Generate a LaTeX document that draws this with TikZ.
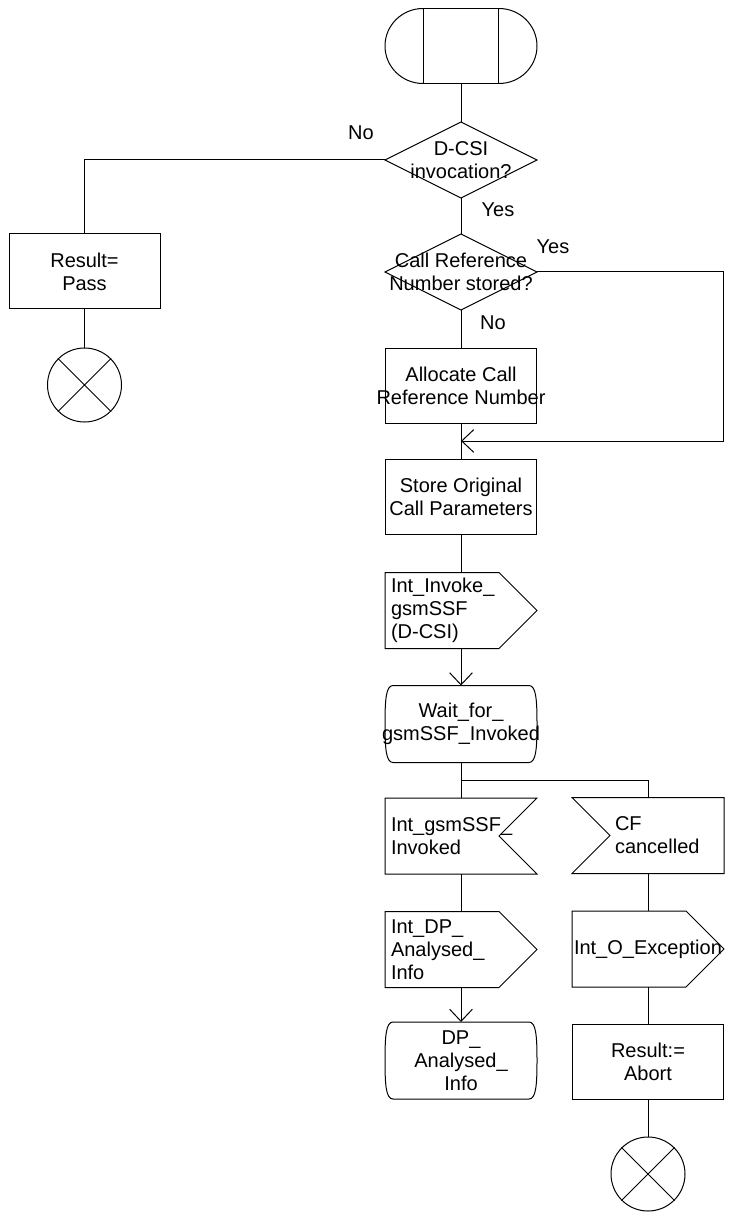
\documentclass[tikz,border=0pt]{standalone}
\usepackage{fontspec}
\setmainfont{Liberation Sans}
\usetikzlibrary{arrows.meta}
\newcommand{\fs}{\fontsize{15pt}{17.25pt}\selectfont}
\newcommand{\zw}[1]{\makebox[0pt]{#1}}
\begin{document}
\begin{tikzpicture}[x=0.75pt,y=-0.75pt, font=\fs, line width=0.75pt,
  shp/.style={rectangle, inner sep=0pt, minimum width=113.25pt, minimum height=56.25pt, align=center},
  box/.style={shp, draw},
  lft/.style={shp, text width=105pt, align=left},
  endc/.style={circle, draw, inner sep=0pt, minimum size=55.5pt},
  lbl/.style={inner sep=0pt},
  arr/.style={-{Straight Barb[length=9pt,width=17pt]}}]
\useasboundingbox (0,0) rectangle (729,1212);

% start terminal
\node[box, minimum width=56.25pt] (start) at (461,46.5) {};
\draw (start.north west) arc[start angle=90, end angle=270, x radius=28.5pt, y radius=28.125pt];
\draw (start.north east) arc[start angle=90, end angle=-90, x radius=28.5pt, y radius=28.125pt];

% decision 1
\node[shp] (d1) at (461,160) {D-CSI\\invocation?};
\draw (d1.north) -- (d1.east) -- (d1.south) -- (d1.west) -- cycle;

% left branch
\node[box] (pass) at (84.5,271.5) {Result=\\Pass};
\node[endc] (endL) at (84.5,385) {};
\draw (endL.north west) -- (endL.south east) (endL.north east) -- (endL.south west);

% decision 2
\node[shp] (d2) at (461,272) {\zw{Call Reference}\\\zw{Number stored?}};
\draw (d2.north) -- (d2.east) -- (d2.south) -- (d2.west) -- cycle;

\node[box] (alloc) at (461,385.5) {Allocate Call\\\zw{Reference Number}};
\coordinate (merge) at (461,441);
\coordinate (yc) at (723,441);
\node[box] (store) at (461,497) {Store Original\\\zw{Call Parameters}};

% output signal
\node[lft] (out1) at (461,610.5) {Int\_Invoke\_\\gsmSSF\\(D-CSI)};
\draw (out1.north west) -- ([xshift=-28.5pt]out1.north east) -- (out1.east) -- ([xshift=-28.5pt]out1.south east) -- (out1.south west) -- cycle;

% state
\node[shp, minimum height=57pt] (wait) at (461,724) {Wait\_for\_\\\zw{gsmSSF\_Invoked}};
\draw ([xshift=6pt]wait.north west) -- ([xshift=-6pt]wait.north east)
  .. controls ([xshift=-0.75pt]wait.north east) and ([yshift=-10.5pt]wait.north east) .. (wait.east)
  .. controls ([yshift=10.5pt]wait.south east) and ([xshift=-0.75pt]wait.south east) .. ([xshift=-6pt]wait.south east)
  -- ([xshift=6pt]wait.south west)
  .. controls ([xshift=0.75pt]wait.south west) and ([yshift=10.5pt]wait.south west) .. (wait.west)
  .. controls ([yshift=-10.5pt]wait.north west) and ([xshift=0.75pt]wait.north west) .. ([xshift=6pt]wait.north west);

\coordinate (br) at (461,780);

% left column
\node[lft] (in1) at (461,836) {Int\_gsmSSF\_\\Invoked};
\draw (in1.north west) -- (in1.north east) -- ([xshift=-28.5pt]in1.east) -- (in1.south east) -- (in1.south west) -- cycle;

\node[lft] (out2) at (461,949.5) {Int\_DP\_\\Analysed\_\\Info};
\draw (out2.north west) -- ([xshift=-28.5pt]out2.north east) -- (out2.east) -- ([xshift=-28.5pt]out2.south east) -- (out2.south west) -- cycle;

\node[shp, minimum height=57pt] (st2) at (461,1060.5) {DP\_\\Analysed\_\\Info};
\draw ([xshift=6pt]st2.north west) -- ([xshift=-6pt]st2.north east)
  .. controls ([xshift=-0.75pt]st2.north east) and ([yshift=-10.5pt]st2.north east) .. (st2.east)
  .. controls ([yshift=10.5pt]st2.south east) and ([xshift=-0.75pt]st2.south east) .. ([xshift=-6pt]st2.south east)
  -- ([xshift=6pt]st2.south west)
  .. controls ([xshift=0.75pt]st2.south west) and ([yshift=10.5pt]st2.south west) .. (st2.west)
  .. controls ([yshift=-10.5pt]st2.north west) and ([xshift=0.75pt]st2.north west) .. ([xshift=6pt]st2.north west);

% right column
\node[lft] (in2) at (648,835.5) {\hspace*{27.75pt}CF\\\hspace*{27.75pt}cancelled};
\draw (in2.north west) -- (in2.north east) -- (in2.south east) -- (in2.south west) -- ([xshift=28.5pt]in2.west) -- cycle;

\node[shp, text width=111pt, align=left] (out3) at (648,949) {Int\_O\_Exception};
\draw (out3.north west) -- ([xshift=-28.5pt]out3.north east) -- (out3.east) -- ([xshift=-28.5pt]out3.south east) -- (out3.south west) -- cycle;

\node[box] (abort) at (648,1061.5) {Result:=\\Abort};
\node[endc] (endR) at (648,1174) {};
\draw (endR.north west) -- (endR.south east) (endR.north east) -- (endR.south west);

% labels
\node[lbl] (lno1) at (361,133) {No};
\node[lbl] (lyes1) at (498,210) {Yes};
\node[lbl] (lyes2) at (553,247) {Yes};
\node[lbl] (lno2) at (493,323) {No};

% connectors
\draw (start.south) -- (d1.north);
\draw (d1.west) -| (pass.north);
\draw (pass.south) -- (endL.north);
\draw (d1.south) -- (d2.north);
\draw (d2.south) -- (alloc.north);
\draw[arr] (d2.east) -| (yc) -- (merge);
\draw (alloc.south) -- (store.north);
\draw (store.south) -- (out1.north);
\draw[arr] (out1.south) -- (wait.north);
\draw (wait.south) -- (in1.north);
\draw (br) -| (in2.north);
\draw (in1.south) -- (out2.north);
\draw[arr] (out2.south) -- (st2.north);
\draw (in2.south) -- (out3.north);
\draw (out3.south) -- (abort.north);
\draw (abort.south) -- (endR.north);
\end{tikzpicture}
\end{document}
